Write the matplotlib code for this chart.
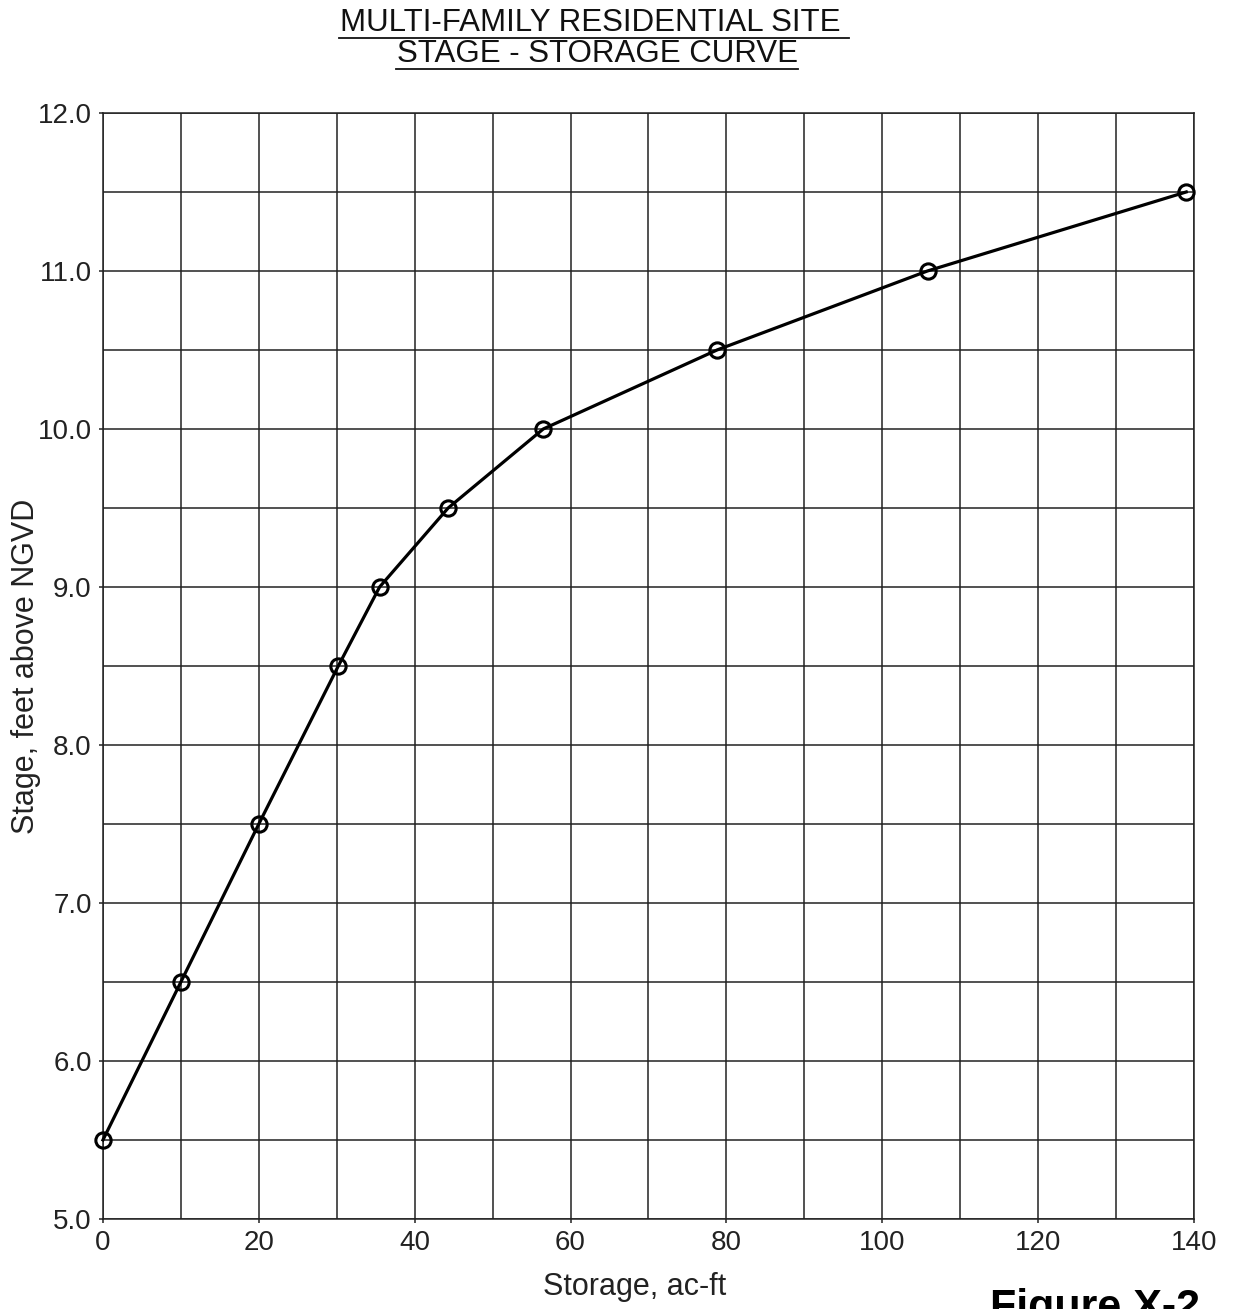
import numpy as np
import matplotlib.pyplot as plt
from matplotlib.lines import Line2D
from matplotlib.ticker import MultipleLocator

plt.rcParams['font.family'] = ['Liberation Sans', 'DejaVu Sans']

# stage-storage data
storage = [0, 10, 20, 30.2, 35.5, 44.3, 56.5, 78.8, 105.8, 139.0]
stage = [5.5, 6.5, 7.5, 8.5, 9.0, 9.5, 10.0, 10.5, 11.0, 11.5]

title_lines = ["MULTI-FAMILY RESIDENTIAL SITE ", "STAGE - STORAGE CURVE"]

fig = plt.figure(figsize=(12.33, 13.09), dpi=100)
ax = fig.add_axes([0.0835, 0.0688, 0.9684 - 0.0835, 0.9137 - 0.0688])

ax.plot(storage, stage, color='black', lw=2.3, marker='o', ms=11,
        mfc='none', mec='black', mew=2.2, zorder=3, clip_on=False)

ax.set_xlim(0, 140)
ax.set_ylim(5.0, 12.0)
ax.xaxis.set_major_locator(MultipleLocator(20))
ax.xaxis.set_minor_locator(MultipleLocator(10))
ax.yaxis.set_major_locator(MultipleLocator(1.0))
ax.yaxis.set_minor_locator(MultipleLocator(0.5))
ax.yaxis.set_major_formatter(lambda v, p: f"{v:.1f}")
ax.grid(which='both', color='#222222', lw=1.1)
ax.tick_params(which='major', length=3, width=1.1, labelsize=20, colors='#222222', pad=5)
ax.tick_params(which='minor', length=0)
for s in ax.spines.values():
    s.set_color('#222222')
    s.set_linewidth(1.1)

ax.set_xlabel("Storage, ac-ft", fontsize=22, color='#222222', va='center')
ax.set_ylabel("Stage, feet above NGVD", fontsize=22, color='#222222', va='center')
ax.xaxis.set_label_coords((635 - 103) / 1091, -(1287 - 1219) / 1106)
ax.yaxis.set_label_coords(-(103 - 26) / 1091, (1219 - 666) / 1106)

# underlined two-line title
fig.text(0.4825, 1 - 23 / 1309, title_lines[0], ha='center', va='center', fontsize=22.5, color='#111111')
fig.text(0.4845, 1 - 54 / 1309, title_lines[1], ha='center', va='center', fontsize=22.5, color='#111111')
fig.add_artist(Line2D([339 / 1233, 849 / 1233], [1 - 38 / 1309] * 2, color='#111111', lw=1.3))
fig.add_artist(Line2D([396 / 1233, 798 / 1233], [1 - 69 / 1309] * 2, color='#111111', lw=1.3))

# figure tag sits at the bottom edge, partly cut off as in the source page
fig.text(0.888, 1 - 1288 / 1309, "Figure X-2", ha='center', va='top', fontsize=31,
         fontweight='bold', color='black')

fig.savefig("out.png", dpi=100)
